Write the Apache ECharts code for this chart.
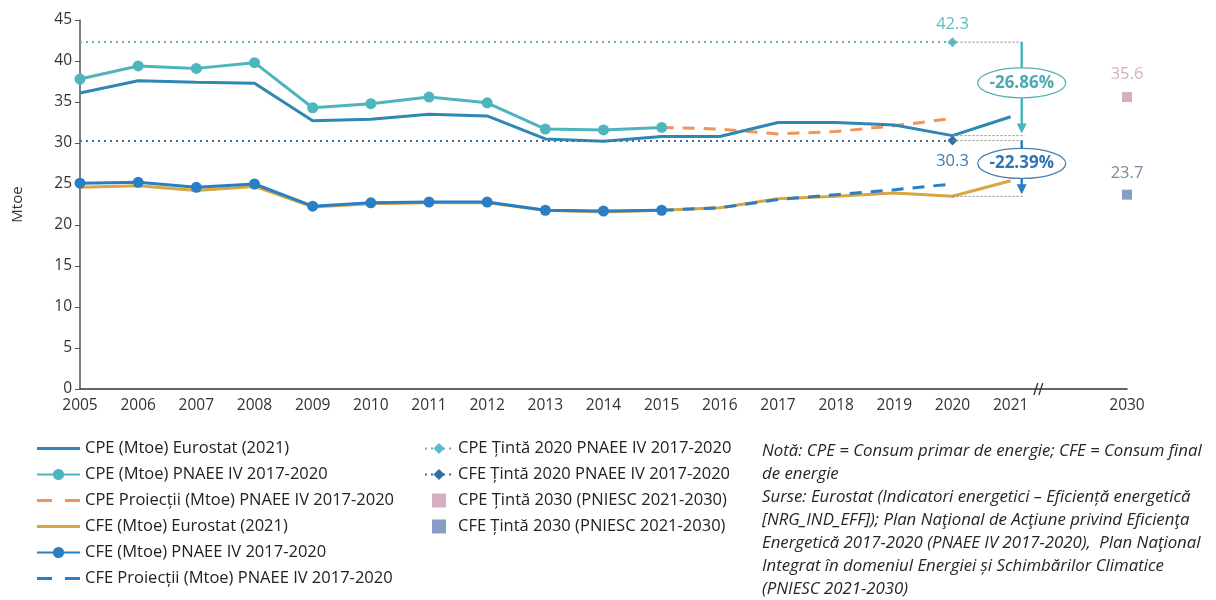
<!DOCTYPE html>
<html>
<head>
<meta charset="utf-8">
<script src="https://cdn.jsdelivr.net/npm/echarts@6/dist/echarts.min.js"></script>
<style>
  html, body { margin: 0; padding: 0; background: #fff; }
  #main { width: 1216px; height: 600px; }
</style>
</head>
<body>
<div id="main"></div>
<script>
// categories (blank slot is the axis break before 2030)
const years = ['2005', '2006', '2007', '2008', '2009', '2010', '2011', '2012', '2013', '2014',
  '2015', '2016', '2017', '2018', '2019', '2020', '2021', '', '2030']

// primary energy consumption (CPE)
const cpeEurostat = [36.1, 37.6, 37.4, 37.3, 32.7, 32.9, 33.5, 33.3, 30.5, 30.2, 30.8, 30.8, 32.5, 32.5, 32.2, 30.9, 33.2]
const cpePnaee = [37.8, 39.4, 39.1, 39.8, 34.3, 34.8, 35.6, 34.9, 31.7, 31.6, 31.9]
const cpeProiectii = [31.9, 31.7, 31.1, 31.4, 32.1, 33.0] // 2015-2020

// final energy consumption (CFE)
const cfeEurostat = [24.6, 24.8, 24.2, 24.7, 22.2, 22.6, 22.7, 22.7, 21.8, 21.6, 21.8, 22.1, 23.2, 23.5, 23.9, 23.5, 25.4]
const cfePnaee = [25.1, 25.2, 24.6, 25.0, 22.3, 22.7, 22.8, 22.8, 21.8, 21.7, 21.8]
const cfeProiectii = [21.8, 22.1, 23.1, 23.7, 24.3, 25.0] // 2015-2020

// targets
const cpeTinta2020 = 42.3
const cfeTinta2020 = 30.3
const cpeTinta2030 = 35.6
const cfeTinta2030 = 23.7
const reductions = ['-26.86%', '-22.39%']

const FONT = 'Open Sans'
const C = {
  cpeEu: '#2F87B3',
  cpePn: '#4DB5BC',
  cpePr: '#F0955A',
  cfeEu: '#D9A640',
  cfePn: '#2A7EC4',
  cpeT: '#5DBCC3',
  cfeT: '#2F6FA8',
  cpe30: '#C99BB5',
  cfe30: '#6A84B8'
}

// legend icons
const lineIcon = 'path://M0,0 L43,0 L43,3 L0,3 Z'
const dashIcon = 'path://M0,0 L15,0 L15,3 L0,3 Z M28,0 L43,0 L43,3 L28,3 Z'
const squareIcon = 'path://M0,0 L10,0 L10,10 L0,10 Z'

// place a sub-range of values starting at a given category index
function at (start, values) {
  const out = years.map(() => null)
  values.forEach((v, i) => { out[start + i] = v })
  return out
}
const i2015 = years.indexOf('2015')
const i2020 = years.indexOf('2020')
const i2030 = years.indexOf('2030')

const legendText = { fontFamily: FONT, fontSize: 16.5, color: '#222' }

const option = {
  animation: false,
  textStyle: { fontFamily: FONT },
  grid: { left: 80, right: 89, top: 20, bottom: 211 },
  legend: [
    {
      orient: 'vertical', left: 36, top: 440, padding: 0, itemWidth: 43, itemHeight: 14, itemGap: 9,
      textStyle: legendText,
      data: [
        { name: 'CPE (Mtoe) Eurostat (2021)', icon: lineIcon },
        { name: 'CPE (Mtoe) PNAEE IV 2017-2020' },
        { name: 'CPE Proiecții (Mtoe) PNAEE IV 2017-2020', icon: dashIcon },
        { name: 'CFE (Mtoe) Eurostat (2021)', icon: lineIcon },
        { name: 'CFE (Mtoe) PNAEE IV 2017-2020' },
        { name: 'CFE Proiecții (Mtoe) PNAEE IV 2017-2020', icon: dashIcon }
      ]
    },
    {
      orient: 'vertical', left: 424, top: 440, padding: 0, itemWidth: 28, itemHeight: 14, itemGap: 9,
      textStyle: legendText,
      data: [
        { name: 'CPE Țintă 2020 PNAEE IV 2017-2020' },
        { name: 'CFE Țintă 2020 PNAEE IV 2017-2020' },
        { name: 'CPE Țintă 2030 (PNIESC 2021-2030)', icon: squareIcon },
        { name: 'CFE Țintă 2030 (PNIESC 2021-2030)', icon: squareIcon }
      ]
    }
  ],
  xAxis: {
    type: 'category',
    data: years,
    boundaryGap: false,
    axisLine: { lineStyle: { color: '#333', width: 1.5 } },
    axisTick: { show: false },
    axisLabel: { interval: 0, fontSize: 15.5, color: '#333', margin: 9 },
    splitLine: { show: false }
  },
  yAxis: {
    type: 'value',
    min: 0,
    max: 45,
    interval: 5,
    name: 'Mtoe',
    nameLocation: 'middle',
    nameRotate: 90,
    nameGap: 55,
    nameTextStyle: { fontSize: 15, color: '#333' },
    axisLine: { show: true, lineStyle: { color: '#555', width: 1.5 } },
    axisTick: { show: true, length: 5, lineStyle: { color: '#555' } },
    axisLabel: { fontSize: 15.5, color: '#333', margin: 8 },
    splitLine: { show: false }
  },
  series: [
    {
      name: 'CPE Țintă 2020 PNAEE IV 2017-2020',
      type: 'line',
      data: at(i2020, [cpeTinta2020]),
      symbol: 'diamond',
      symbolSize: 10,
      itemStyle: { color: C.cpeT },
      lineStyle: { color: '#6AAFBD', width: 2, type: [2, 4] },
      label: { show: true, position: 'top', distance: 4, fontSize: 16.5, color: C.cpeT },
      markLine: {
        silent: true, symbol: 'none', label: { show: false },
        lineStyle: { color: '#6AAFBD', width: 2, type: [2, 4] },
        data: [[{ coord: ['2005', cpeTinta2020] }, { coord: ['2020', cpeTinta2020] }]]
      },
      z: 1
    },
    {
      name: 'CFE Țintă 2020 PNAEE IV 2017-2020',
      type: 'line',
      data: at(i2020, [cfeTinta2020]),
      symbol: 'diamond',
      symbolSize: 10,
      itemStyle: { color: C.cfeT },
      lineStyle: { color: '#3D6E9C', width: 2, type: [2, 4] },
      label: { show: true, position: 'bottom', distance: 7, fontSize: 16.5, color: '#3D7DB3' },
      markLine: {
        silent: true, symbol: 'none', label: { show: false },
        lineStyle: { color: '#3D6E9C', width: 2, type: [2, 4] },
        data: [[{ coord: ['2005', cfeTinta2020] }, { coord: ['2020', cfeTinta2020] }]]
      },
      z: 1
    },
    {
      name: 'CPE Proiecții (Mtoe) PNAEE IV 2017-2020',
      type: 'line',
      data: at(i2015, cpeProiectii),
      symbol: 'none',
      itemStyle: { color: C.cpePr },
      lineStyle: { color: C.cpePr, width: 3, type: [12, 9] },
      z: 2
    },
    {
      name: 'CPE (Mtoe) Eurostat (2021)',
      type: 'line',
      data: cpeEurostat,
      symbol: 'none',
      itemStyle: { color: C.cpeEu },
      lineStyle: { color: C.cpeEu, width: 3 },
      z: 3
    },
    {
      name: 'CPE (Mtoe) PNAEE IV 2017-2020',
      type: 'line',
      data: cpePnaee,
      symbol: 'circle',
      symbolSize: 11,
      itemStyle: { color: C.cpePn },
      lineStyle: { color: C.cpePn, width: 3 },
      z: 4
    },
    {
      name: 'CFE (Mtoe) Eurostat (2021)',
      type: 'line',
      data: cfeEurostat,
      symbol: 'none',
      itemStyle: { color: C.cfeEu },
      lineStyle: { color: C.cfeEu, width: 3 },
      z: 3
    },
    {
      name: 'CFE Proiecții (Mtoe) PNAEE IV 2017-2020',
      type: 'line',
      data: at(i2015, cfeProiectii),
      symbol: 'none',
      itemStyle: { color: C.cfePn },
      lineStyle: { color: C.cfePn, width: 3, type: [12, 9] },
      z: 4
    },
    {
      name: 'CFE (Mtoe) PNAEE IV 2017-2020',
      type: 'line',
      data: cfePnaee,
      symbol: 'circle',
      symbolSize: 11,
      itemStyle: { color: C.cfePn },
      lineStyle: { color: C.cfePn, width: 3 },
      z: 5
    },
    {
      name: 'CPE Țintă 2030 (PNIESC 2021-2030)',
      type: 'scatter',
      data: at(i2030, [cpeTinta2030]),
      symbol: 'rect',
      symbolSize: 10,
      itemStyle: { color: C.cpe30 },
      label: { show: true, position: 'top', distance: 9, fontSize: 16.5, color: C.cpe30 }
    },
    {
      name: 'CFE Țintă 2030 (PNIESC 2021-2030)',
      type: 'scatter',
      data: at(i2030, [cfeTinta2030]),
      symbol: 'rect',
      symbolSize: 10,
      itemStyle: { color: C.cfe30 },
      label: { show: true, position: 'top', distance: 8, fontSize: 16.5, color: '#5B6B85' }
    }
  ]
}

const chart = echarts.init(document.getElementById('main'))
chart.setOption(option)

// annotations placed through the chart's own scales
function px (i, v) { return chart.convertToPixel({ seriesIndex: 3 }, [i, v]) }
const i2021 = years.indexOf('2021')
const step = px(i2021 + 1, 0)[0] - px(i2021, 0)[0]
const ax = px(i2021, 0)[0] + step * 0.19
const x2020 = px(i2020, 0)[0]
const y = v => px(0, v)[1]
const cpe2020 = cpeEurostat[i2020]
const cfe2020 = cfeEurostat[i2020]

const g = []
;[cpeTinta2020, cpe2020, cfeTinta2020, cfe2020].forEach(v => {
  g.push({ type: 'line', shape: { x1: x2020, y1: y(v), x2: ax + 3, y2: y(v) },
    style: { stroke: '#8a8a8a', lineWidth: 1, lineDash: [2, 2] }, z: 10 })
})
function arrow (vTop, vBottom, color) {
  const y1 = y(vTop); const y2 = y(vBottom) - 2
  g.push({ type: 'line', shape: { x1: ax, y1: y1, x2: ax, y2: y2 - 8 }, style: { stroke: color, lineWidth: 2.5 }, z: 11 })
  g.push({ type: 'polygon', shape: { points: [[ax - 5, y2 - 10], [ax + 5, y2 - 10], [ax, y2]] }, style: { fill: color }, z: 11 })
}
function bubble (vTop, vBottom, text, color, textColor, shift) {
  const cy = (y(vTop) + y(vBottom)) / 2 + shift
  g.push({ type: 'ellipse', shape: { cx: ax, cy: cy, rx: 44, ry: 15 },
    style: { fill: '#fff', stroke: color, lineWidth: 1.3 }, z: 12 })
  g.push({ type: 'text', x: ax, y: cy,
    style: { text: text, fill: textColor, font: 'bold 17px ' + FONT, align: 'center', verticalAlign: 'middle' }, z: 13 })
}
arrow(cpeTinta2020, cpe2020, C.cpePn)
arrow(cfeTinta2020, cfe2020, C.cfePn)
bubble(cpeTinta2020, cpe2020, reductions[0], '#5BB0B8', '#4AAAB3', -6)
bubble(cfeTinta2020, cfe2020, reductions[1], '#4A7FAE', '#2F74B5', -5)

// axis break marks
const bx = px(i2021, 0)[0] + step * 0.45
const by = y(0)
;[0, 5].forEach(k => {
  g.push({ type: 'line', shape: { x1: bx - 3 + k, y1: by + 6, x2: bx + 1 + k, y2: by - 6 },
    style: { stroke: '#333', lineWidth: 1.3 }, z: 10 })
})

// source note
g.push({
  type: 'text', left: 762, top: 440,
  style: {
    text: 'Notă: CPE = Consum primar de energie; CFE = Consum final\nde energie\n' +
      'Surse: Eurostat (Indicatori energetici – Eficiență energetică\n' +
      '[NRG_IND_EFF]); Plan Naţional de Acţiune privind Eficienţa\n' +
      'Energetică 2017-2020 (PNAEE IV 2017-2020),  Plan Naţional\n' +
      'Integrat în domeniul Energiei și Schimbărilor Climatice\n(PNIESC 2021-2030)',
    font: 'italic 16.8px ' + FONT,
    lineHeight: 23,
    fill: '#262626'
  }
})

chart.setOption({ graphic: g })
</script>
</body>
</html>
